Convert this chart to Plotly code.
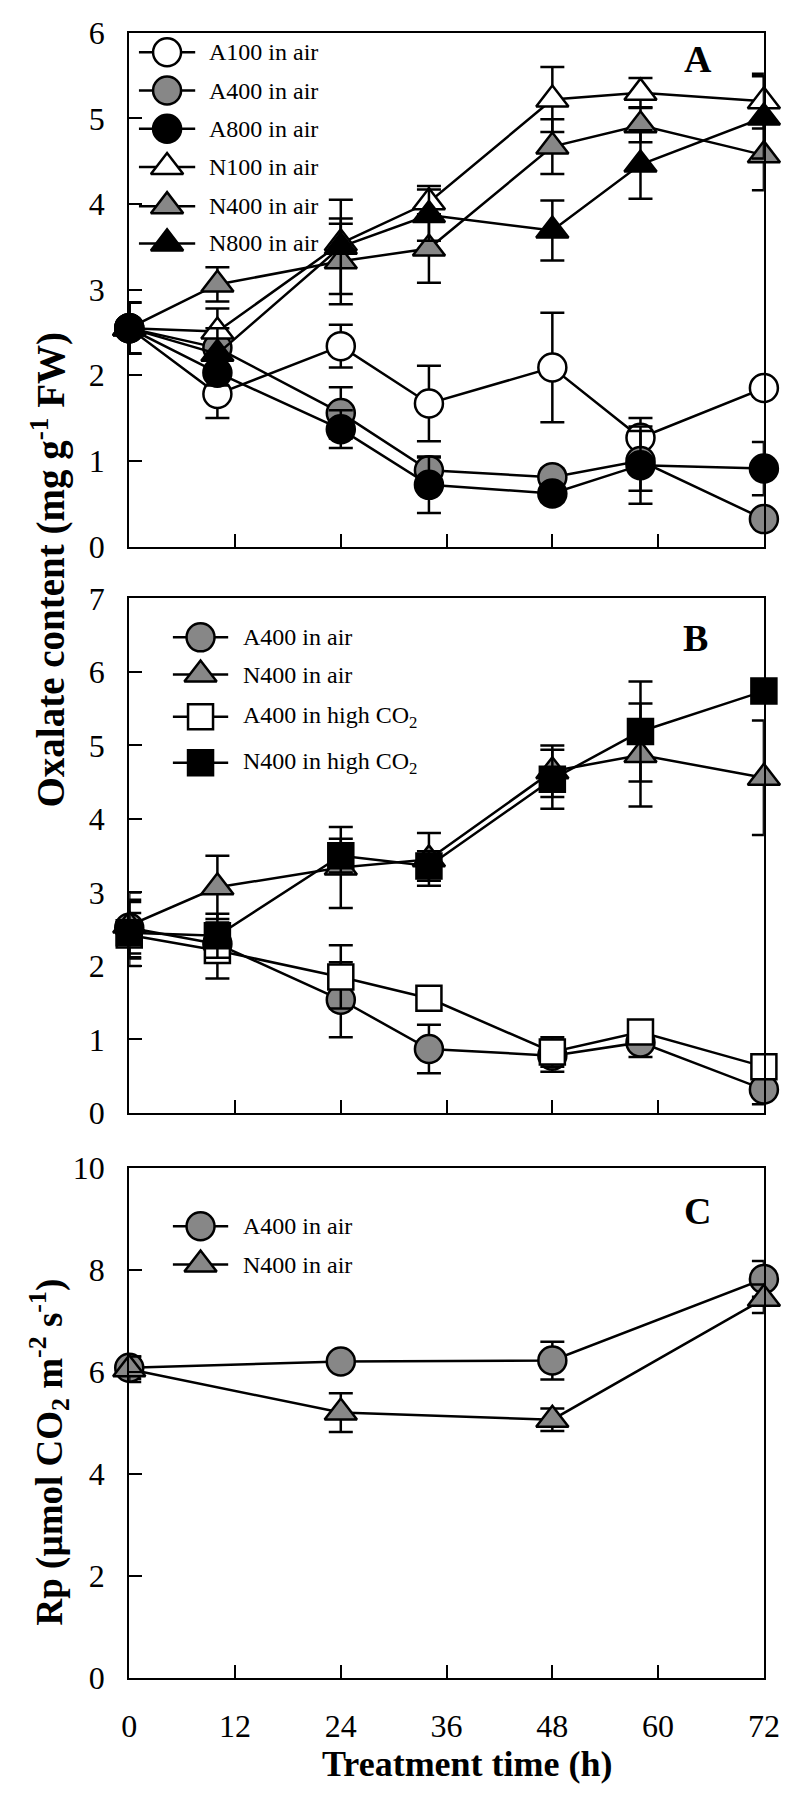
import plotly.graph_objects as go

# ---------------- data ----------------
hours = [0, 10, 24, 34, 48, 58, 72]
hours_rp = [0, 24, 48, 72]

# Panel A (oxalate, mg g-1 FW)
A100_air = [2.55, 1.78, 2.34, 1.67, 2.09, 1.27, 1.85]
A100_err = [0.30, 0.28, 0.25, 0.44, 0.64, 0.23, 0.10]
A400_air = [2.55, 2.32, 1.56, 0.89, 0.81, 1.00, 0.32]
A400_err = [0.30, 0.10, 0.30, 0.15, 0.10, 0.35, 0.05]
A800_air = [2.55, 2.03, 1.37, 0.72, 0.62, 0.95, 0.91]
A800_err = [0.30, 0.15, 0.22, 0.33, 0.10, 0.45, 0.31]
N100_air = [2.55, 2.51, 3.54, 4.02, 5.22, 5.30, 5.20]
N100_err = [0.30, 0.27, 0.23, 0.19, 0.38, 0.17, 0.32]
N400_air = [2.55, 3.06, 3.33, 3.48, 4.67, 4.92, 4.57]
N400_err = [0.30, 0.20, 0.50, 0.40, 0.32, 0.20, 0.41]
N800_air = [2.55, 2.25, 3.50, 3.87, 3.69, 4.46, 5.01]
N800_err = [0.30, 0.30, 0.55, 0.30, 0.35, 0.40, 0.48]

# Panel B
B_A400_air = [2.52, 2.30, 1.54, 0.87, 0.78, 0.96, 0.32]
B_A400_air_err = [0.35, 0.10, 0.51, 0.33, 0.22, 0.20, 0.20]
B_N400_air = [2.55, 3.07, 3.34, 3.45, 4.65, 4.87, 4.56]
B_N400_air_err = [0.45, 0.43, 0.55, 0.36, 0.35, 0.70, 0.78]
B_A400_co2 = [2.42, 2.21, 1.85, 1.56, 0.83, 1.10, 0.63]
B_A400_co2_err = [0.30, 0.38, 0.43, 0.10, 0.20, 0.10, 0.10]
B_N400_co2 = [2.45, 2.41, 3.50, 3.36, 4.54, 5.19, 5.74]
B_N400_co2_err = [0.45, 0.30, 0.23, 0.20, 0.40, 0.68, 0.10]

# Panel C (Rp)
C_A400_rp = [6.08, 6.20, 6.22, 7.82]
C_A400_rp_err = [0.22, 0.08, 0.37, 0.35]
C_N400_rp = [6.05, 5.20, 5.06, 7.43]
C_N400_rp_err = [0.25, 0.38, 0.22, 0.28]

x_ticks = [0, 12, 24, 36, 48, 60, 72]
ya_ticks = [0, 1, 2, 3, 4, 5, 6]
yb_ticks = [0, 1, 2, 3, 4, 5, 6, 7]
yc_ticks = [0, 2, 4, 6, 8, 10]

legend_A = ["A100 in air", "A400 in air", "A800 in air", "N100 in air", "N400 in air", "N800 in air"]
legend_B = ["A400 in air", "N400 in air", "A400 in high CO<sub>2</sub>", "N400 in high CO<sub>2</sub>"]
legend_C = ["A400 in air", "N400 in air"]

# ---------------- style ----------------
FONT = "Liberation Serif"
GRAY = "#878787"
W, H = 799, 1800
STY = {
    "A100": ("circle", "white", 28),
    "A400": ("circle", GRAY, 28),
    "A800": ("circle", "black", 28),
    "N100": ("triangle-up", "white", 28),
    "N400": ("triangle-up", GRAY, 28),
    "N800": ("triangle-up", "black", 28),
    "Asq": ("square", "white", 25),
    "Nsq": ("square", "black", 25),
}

fig = go.Figure()


def add_series(x, y, err, ax, key):
    sym, fill, size = STY[key]
    fig.add_trace(go.Scatter(
        x=x, y=y, mode="lines+markers", xaxis="x" + ax, yaxis="y" + ax,
        line=dict(color="black", width=2.5),
        marker=dict(symbol=sym, size=size, color=fill, line=dict(color="black", width=2.5)),
        error_y=dict(type="data", array=err, visible=True, color="black", thickness=2.5, width=12),
        cliponaxis=False, showlegend=False, hoverinfo="skip"))


add_series(hours, A100_air, A100_err, "", "A100")
add_series(hours, A400_air, A400_err, "", "A400")
add_series(hours, A800_air, A800_err, "", "A800")
add_series(hours, N100_air, N100_err, "", "N100")
add_series(hours, N400_air, N400_err, "", "N400")
add_series(hours, N800_air, N800_err, "", "N800")

add_series(hours, B_A400_air, B_A400_air_err, "2", "A400")
add_series(hours, B_N400_air, B_N400_air_err, "2", "N400")
add_series(hours, B_A400_co2, B_A400_co2_err, "2", "Asq")
add_series(hours, B_N400_co2, B_N400_co2_err, "2", "Nsq")

add_series(hours_rp, C_A400_rp, C_A400_rp_err, "3", "A400")
add_series(hours_rp, C_N400_rp, C_N400_rp_err, "3", "N400")

# ---------------- manual legends (pixel overlay axis) ----------------
annotations = []


def legend_block(labels, keys, ys, x0, x1, xt):
    xm = (x0 + x1) / 2
    for lab, key, yy in zip(labels, keys, ys):
        sym, fill, size = STY[key]
        fig.add_trace(go.Scatter(x=[x0, x1], y=[yy, yy], mode="lines", xaxis="x4", yaxis="y4",
                                 line=dict(color="black", width=2.5), showlegend=False, hoverinfo="skip"))
        fig.add_trace(go.Scatter(x=[xm], y=[yy], mode="markers", xaxis="x4", yaxis="y4",
                                 marker=dict(symbol=sym, size=size, color=fill,
                                             line=dict(color="black", width=2.5)),
                                 showlegend=False, hoverinfo="skip", cliponaxis=False))
        annotations.append(dict(text=lab, x=xt / W, y=1 - yy / H, xref="paper", yref="paper",
                                xanchor="left", yanchor="middle", showarrow=False,
                                font=dict(family=FONT, size=24, color="black")))


legend_block(legend_A, ["A100", "A400", "A800", "N100", "N400", "N800"],
             [35, 74, 113, 152, 192, 230], 135, 193, 205)
legend_block(legend_B, ["A400", "N400", "Asq", "Nsq"], [632, 670, 713, 760], 170, 227, 240)
legend_block(legend_C, ["A400", "N400"], [1233, 1272], 170, 227, 240)

# panel letters
for letter, px, py in [("A", 711, 42), ("B", 709, 633), ("C", 711, 1217)]:
    annotations.append(dict(text="<b>%s</b>" % letter, x=px / W, y=1 - py / H, xref="paper", yref="paper",
                            xanchor="center", yanchor="middle", showarrow=False,
                            font=dict(family=FONT, size=38, color="black")))

# axis titles
annotations.append(dict(text="<b>Oxalate content (mg g<sup>-1</sup> FW)</b>", x=42 / W, y=1 - 563 / H,
                        xref="paper", yref="paper", textangle=-90, showarrow=False,
                        xanchor="center", yanchor="middle", font=dict(family=FONT, size=39, color="black")))
annotations.append(dict(text="<b>Rp (µmol CO<sub>2</sub> m<sup>-2</sup> s<sup>-1</sup>)</b>", x=42 / W, y=1 - 1463 / H,
                        xref="paper", yref="paper", textangle=-90, showarrow=False,
                        xanchor="center", yanchor="middle", font=dict(family=FONT, size=37, color="black")))
annotations.append(dict(text="<b>Treatment time (h)</b>", x=474 / W, y=1 - 1782 / H,
                        xref="paper", yref="paper", showarrow=False,
                        xanchor="center", yanchor="middle", font=dict(family=FONT, size=36, color="black")))

# ---------------- axes ----------------
XD = [125 / W, 779.3 / W]
axcommon = dict(showline=True, linecolor="black", linewidth=2, mirror=True, ticks="inside",
                ticklen=13, tickwidth=2, tickcolor="black", showgrid=False, zeroline=False,
                tickfont=dict(family=FONT, size=32, color="black"))


def xax(anchor, labels):
    d = dict(axcommon)
    d.update(domain=XD, range=[0, 72], tickvals=x_ticks, anchor=anchor, showticklabels=labels,
             ticklabelstandoff=19)
    return d


def yax(anchor, dom, rng, tv):
    d = dict(axcommon)
    d.update(domain=dom, range=rng, tickvals=tv, anchor=anchor, ticklabelstandoff=16)
    return d


fig.update_layout(
    width=W, height=H, margin=dict(l=0, r=0, t=0, b=0),
    paper_bgcolor="white", plot_bgcolor="rgba(0,0,0,0)",
    font=dict(family=FONT, color="black"),
    xaxis=xax("y", False),
    yaxis=yax("x", [1 - 539.3 / H, 1 - 15 / H], [0, 6], ya_ticks),
    xaxis2=xax("y2", False),
    yaxis2=yax("x2", [1 - 1117.3 / H, 1 - 592.3 / H], [0, 7], yb_ticks),
    xaxis3=xax("y3", True),
    yaxis3=yax("x3", [1 - 1693.5 / H, 1 - 1173.3 / H], [0, 10], yc_ticks),
    xaxis4=dict(domain=[0, 1], range=[0, W], visible=False, anchor="y4", fixedrange=True),
    yaxis4=dict(domain=[0, 1], range=[H, 0], visible=False, anchor="x4", fixedrange=True),
    annotations=annotations,
    showlegend=False,
)

fig.write_html("out.html", config={"displayModeBar": False},
               post_script="document.body.style.margin='0px';document.body.style.padding='0px';")
